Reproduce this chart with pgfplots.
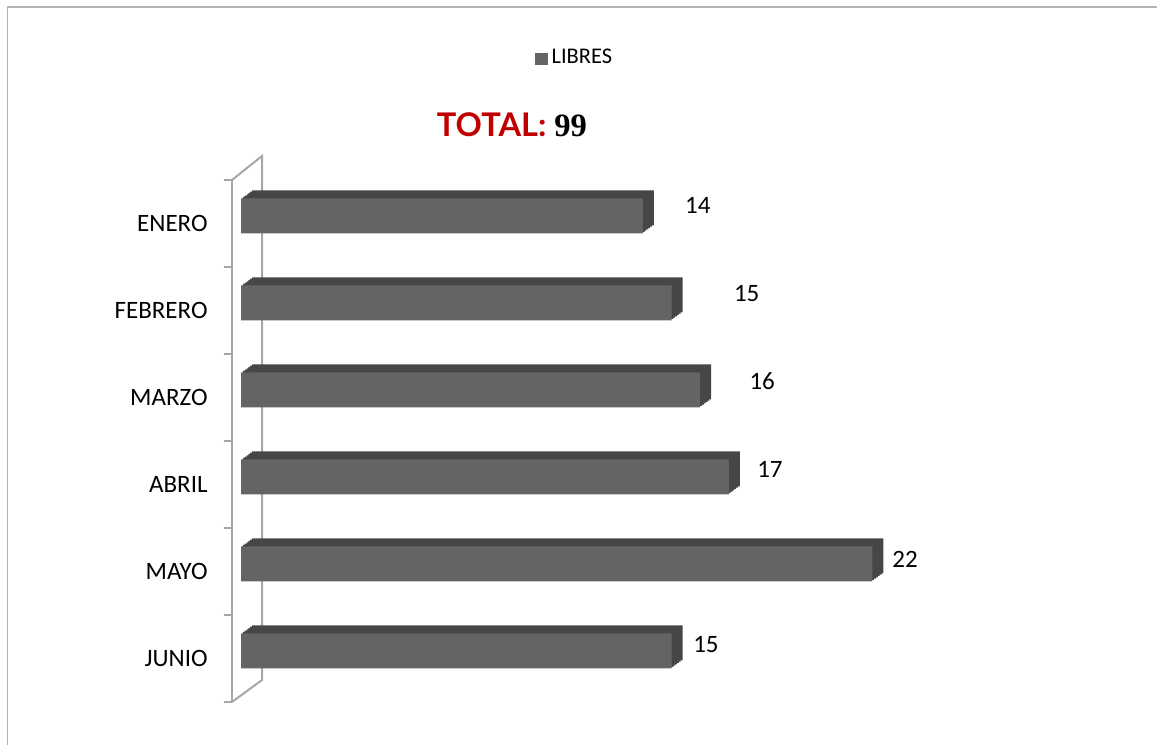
\documentclass[border=0pt]{standalone}
\usepackage{fontspec}
\setmainfont{Carlito}
\newfontfamily\titlesans{Lato}
\newfontfamily\titleserif{Liberation Serif}
\usepackage{pgfplots}
\usepackage{pgfplotstable}
\pgfplotsset{compat=1.18}

\definecolor{barfront}{HTML}{646464}
\definecolor{bardepth}{HTML}{464646}
\definecolor{wallgray}{HTML}{A6A6A6}
\definecolor{titlered}{HTML}{C00000}

% month index, value
\pgfplotstableread{
i v
0 14
1 15
2 16
3 17
4 22
5 15
}\libres

\begin{document}
\begin{tikzpicture}
\useasboundingbox (0,0) rectangle (578.5pt,372.5pt);
\draw[wallgray!85, line width=0.6pt] (3.6pt,0) -- (3.6pt,369pt) -- (578.5pt,369pt);
\begin{axis}[
    at={(116pt,21.5pt)}, anchor=south west,
    scale only axis, width=435pt, height=261pt,
    xmin=-0.3136, xmax=30,
    ymin=-0.5, ymax=5.5, y dir=reverse,
    hide x axis,
    axis y line*=left,
    y axis line style={wallgray, line width=1pt, -},
    ytick={0,...,5},
    yticklabels={ENERO,FEBRERO,MARZO,ABRIL,MAYO,JUNIO},
    minor ytick={-0.5,0.5,...,5.5},
    major tick length=0pt, minor tick length=4pt,
    tick align=outside,
    minor y tick style={wallgray, line width=1pt},
    yticklabel style={font=\fontsize{12.5}{14}\selectfont, inner sep=0pt, xshift=-12pt},
    clip=false,
    legend style={at={(axis description cs:0.395,1.2337)}, anchor=center,
        draw=none, fill=none, font=\fontsize{11.2}{13}\selectfont},
    legend cell align=left,
]
% 3D wall
\draw[wallgray, line width=1pt] (axis description cs:0,1) -- ++(15pt,12pt)
    -- ([xshift=15pt,yshift=11pt]axis description cs:0,0) -- (axis description cs:0,0);

% depth of the bars, drawn as stepped copies behind the front face
\pgfplotsinvokeforeach{6,5,4,3,2,1}{
  \addplot[xbar, bar width=17.5pt, bar shift=0pt, fill=bardepth, draw=none,
      xshift=#1*5.5pt/6, yshift=3.85pt+#1*4pt/6, forget plot]
      table[x=v, y=i] {\libres};
}
% front face
\addplot[xbar, bar width=17.5pt, bar shift=0pt, fill=barfront, draw=none, yshift=3.85pt,
    legend image code/.code={\fill[barfront] (0pt,-7.3pt) rectangle (6.2pt,-1.1pt);}]
    table[x=v, y=i] {\libres};
\addlegendentry{LIBRES}

% value labels
\addplot[only marks, mark=none, forget plot, nodes near coords, point meta=explicit symbolic,
    every node near coord/.append style={anchor=center, font=\fontsize{12.5}{14}\selectfont}]
    coordinates {(15.92,-0.207)[14] (17.62,0.805)[15] (18.16,1.816)[16]
                 (18.43,2.822)[17] (23.14,3.856)[22] (16.20,4.839)[15]};

\node at (axis description cs:0.3218,1.1054)
    {\bfseries\fontsize{16.3}{19}\selectfont\titlesans\color{titlered}TOTAL: \titleserif\color{black}99};
\end{axis}
\end{tikzpicture}
\end{document}
